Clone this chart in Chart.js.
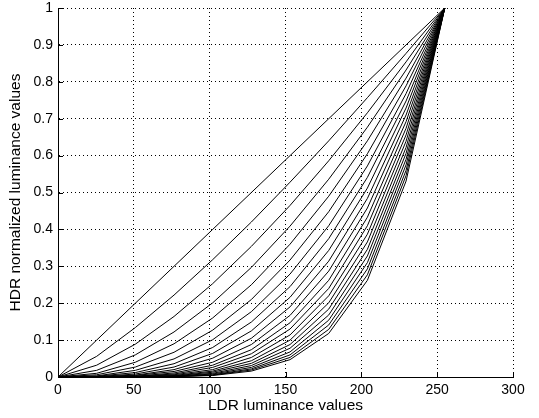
<!DOCTYPE html>
<html>
<head>
<meta charset="utf-8">
<script src="https://cdn.jsdelivr.net/npm/chart.js@4"></script>
<style>
  html, body { margin: 0; padding: 0; background: #fff; }
  #wrap { width: 539px; height: 418px; }
</style>
</head>
<body>
<div id="wrap"><canvas id="curveChart" width="539" height="418"></canvas></div>
<script>
// LDR sample positions (x axis)
const ldrValues = [0, 25.5, 51, 76.5, 102, 127.5, 153, 178.5, 204, 229.5, 255];

// one curve per exponent
const curveLabels = ['1.00', '1.25', '1.50', '1.75', '2.00', '2.25', '2.50', '2.75', '3.00', '3.25',
  '3.50', '3.75', '4.00', '4.25', '4.50', '4.75', '5.00', '5.25', '5.50', '5.75', '6.00'];

const curveValues = [
  [0, 0.100, 0.200, 0.300, 0.400, 0.500, 0.600, 0.700, 0.800, 0.900, 1],
  [0, 0.056, 0.134, 0.222, 0.318, 0.420, 0.528, 0.640, 0.757, 0.877, 1],
  [0, 0.032, 0.089, 0.164, 0.253, 0.354, 0.465, 0.586, 0.716, 0.854, 1],
  [0, 0.018, 0.060, 0.122, 0.201, 0.297, 0.409, 0.536, 0.677, 0.832, 1],
  [0, 0.010, 0.040, 0.090, 0.160, 0.250, 0.360, 0.490, 0.640, 0.810, 1],
  [0, 0.006, 0.027, 0.067, 0.127, 0.210, 0.317, 0.448, 0.605, 0.789, 1],
  [0, 0.003, 0.018, 0.049, 0.101, 0.177, 0.279, 0.410, 0.572, 0.768, 1],
  [0, 0.002, 0.012, 0.036, 0.080, 0.149, 0.245, 0.375, 0.541, 0.748, 1],
  [0, 0.001, 0.008, 0.027, 0.064, 0.125, 0.216, 0.343, 0.512, 0.729, 1],
  [0, 0.001, 0.005, 0.020, 0.051, 0.105, 0.190, 0.314, 0.484, 0.710, 1],
  [0, 0.000, 0.004, 0.015, 0.040, 0.088, 0.167, 0.287, 0.458, 0.692, 1],
  [0, 0.000, 0.002, 0.011, 0.032, 0.074, 0.147, 0.262, 0.433, 0.674, 1],
  [0, 0.000, 0.002, 0.008, 0.026, 0.063, 0.130, 0.240, 0.410, 0.656, 1],
  [0, 0.000, 0.001, 0.006, 0.020, 0.053, 0.114, 0.220, 0.387, 0.639, 1],
  [0, 0.000, 0.001, 0.004, 0.016, 0.044, 0.100, 0.201, 0.366, 0.622, 1],
  [0, 0.000, 0.000, 0.003, 0.013, 0.037, 0.088, 0.184, 0.346, 0.606, 1],
  [0, 0.000, 0.000, 0.002, 0.010, 0.031, 0.078, 0.168, 0.328, 0.590, 1],
  [0, 0.000, 0.000, 0.002, 0.008, 0.026, 0.068, 0.154, 0.310, 0.575, 1],
  [0, 0.000, 0.000, 0.001, 0.006, 0.022, 0.060, 0.141, 0.293, 0.560, 1],
  [0, 0.000, 0.000, 0.001, 0.005, 0.019, 0.053, 0.129, 0.277, 0.546, 1],
  [0, 0.000, 0.000, 0.001, 0.004, 0.016, 0.047, 0.118, 0.262, 0.531, 1]
];

const xTicks = [0, 50, 100, 150, 200, 250, 300];
const yTicks = [0, 0.1, 0.2, 0.3, 0.4, 0.5, 0.6, 0.7, 0.8, 0.9, 1];

const FONT = 'Arial, "Liberation Sans", sans-serif';

// matlab style ticks pointing into the plot
const inwardTicks = {
  id: 'inwardTicks',
  afterDraw(chart) {
    const { ctx, chartArea, scales } = chart;
    ctx.save();
    ctx.strokeStyle = '#000';
    ctx.lineWidth = 1;
    ctx.beginPath();
    xTicks.forEach(v => {
      const px = Math.round(scales.x.getPixelForValue(v)) + 0.5;
      ctx.moveTo(px, chartArea.bottom);
      ctx.lineTo(px, chartArea.bottom - 5);
    });
    yTicks.forEach(v => {
      const py = Math.round(scales.y.getPixelForValue(v)) + 0.5;
      ctx.moveTo(chartArea.left, py);
      ctx.lineTo(chartArea.left + 5, py);
    });
    ctx.stroke();
    ctx.restore();
  }
};

const datasets = curveValues.map((vals, i) => ({
  label: curveLabels[i],
  data: vals.map((y, j) => ({ x: ldrValues[j], y: y })),
  borderColor: '#000',
  borderWidth: 1,
  pointRadius: 0,
  showLine: true,
  fill: false,
  tension: 0
}));

new Chart(document.getElementById('curveChart'), {
  type: 'scatter',
  data: { datasets },
  options: {
    responsive: false,
    animation: false,
    layout: { padding: { left: 0, right: 26, top: 8, bottom: 0 } },
    plugins: { legend: { display: false }, tooltip: { enabled: false } },
    scales: {
      x: {
        type: 'linear',
        min: 0,
        max: 300,
        afterFit: s => { s.height = 41; s.paddingLeft = 0; s.paddingRight = 0; },
        afterBuildTicks: s => { s.ticks = xTicks.map(v => ({ value: v })); },
        ticks: { color: '#000', font: { family: FONT, size: 14 }, padding: 5, maxRotation: 0 },
        grid: {
          color: ctx => ctx.tick && ctx.tick.value === 0 ? 'rgba(0,0,0,0)' : '#000',
          lineWidth: 1,
          drawTicks: false
        },
        border: { display: true, color: '#000', width: 1, dash: [1, 3] },
        title: {
          display: true,
          text: 'LDR luminance values',
          color: '#000',
          font: { family: FONT, size: 15.5 },
          padding: { top: 0, bottom: 3 }
        }
      },
      y: {
        type: 'linear',
        min: 0,
        max: 1,
        afterFit: s => { s.width = 58; s.paddingTop = 0; s.paddingBottom = 0; },
        afterBuildTicks: s => { s.ticks = yTicks.map(v => ({ value: v })); },
        ticks: {
          color: '#000',
          font: { family: FONT, size: 14 },
          padding: 5,
          callback: v => String(Math.round(v * 10) / 10)
        },
        grid: {
          color: ctx => ctx.tick && ctx.tick.value === 0 ? 'rgba(0,0,0,0)' : '#000',
          lineWidth: 1,
          drawTicks: false
        },
        border: { display: true, color: '#000', width: 1, dash: [1, 3] },
        title: {
          display: true,
          text: 'HDR normalized luminance values',
          color: '#000',
          font: { family: FONT, size: 15.5 },
          padding: { top: 6, bottom: 0 }
        }
      }
    }
  },
  plugins: [inwardTicks]
});
</script>
</body>
</html>
